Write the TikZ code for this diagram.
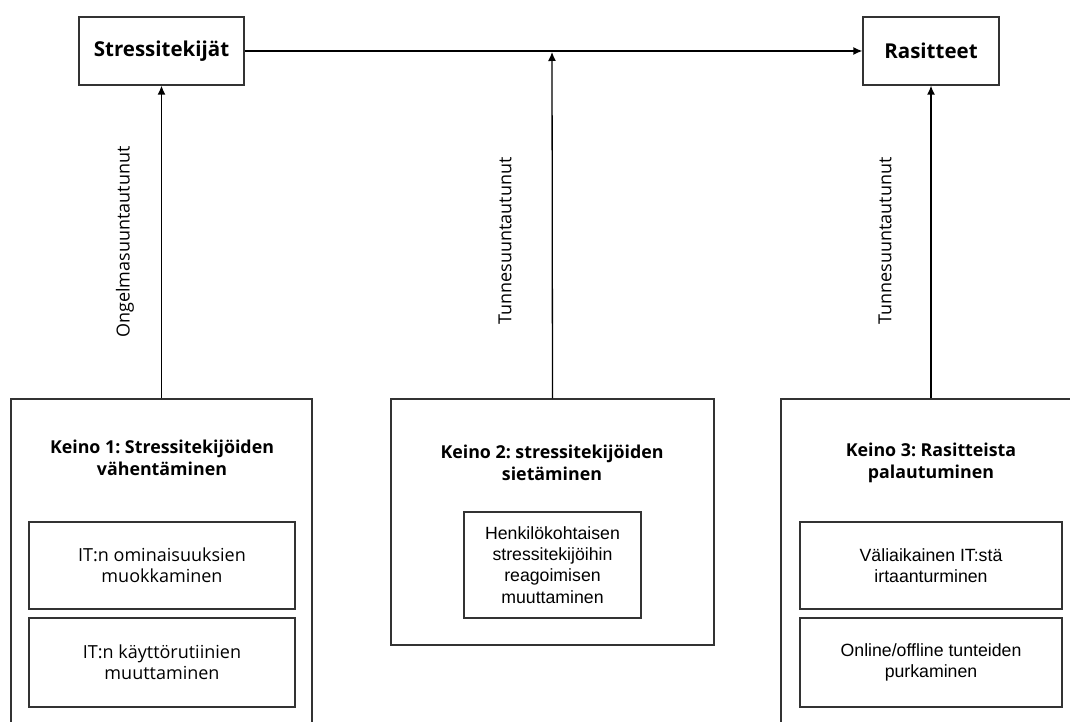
\documentclass[tikz,border=0pt]{standalone}
\usepackage{fontspec}
\setmainfont{Open Sans}
\newfontfamily\arialf{Liberation Sans}
\usetikzlibrary{arrows.meta}
\definecolor{lc}{HTML}{333333}
\frenchspacing
\begin{document}
\frenchspacing
\begin{tikzpicture}[x=1pt,y=-1pt,
  box/.style={draw=lc, line width=1.3pt, fill=white, inner sep=0pt},
  topbox/.style={box, font=\fontsize{20.5}{24}\selectfont\bfseries},
  ttl/.style={align=center, inner sep=0pt, font=\fontsize{17.8}{21.5}\selectfont\bfseries},
  inos/.style={box, align=center, font=\fontsize{18}{21}\selectfont},
  inar/.style={box, align=center, font=\arialf\fontsize{17.7}{21.3}\selectfont},
  lbl/.style={rotate=90, inner sep=0pt, font=\fontsize{18}{20}\selectfont},
  arr/.style={draw=black, line width=1.3pt, -{Latex[length=9pt,width=8pt]}}]
\useasboundingbox (0,0) rectangle (1070,722);
% top boxes
\node[topbox, minimum width=165pt, minimum height=68pt] (st) at (161.5,51) {Stressitekijät};
\node[topbox, minimum width=136pt, minimum height=68pt] (ra) at (931,51) {Rasitteet};
% outer boxes
\node[box, minimum width=301pt, minimum height=361pt] (k1) at (161.5,579.5) {};
\node[box, minimum width=323pt, minimum height=246pt] (k2) at (552.5,522) {};
\node[box, minimum width=319pt, minimum height=361pt] (k3) at (940.5,579.5) {};
% titles
\node[ttl] (t1) at (162,458) {Keino 1: Stressitekijöiden\\vähentäminen};
\node[ttl] (t2) at (552,463) {Keino 2: stressitekijöiden\\sietäminen};
\node[ttl] (t3) at (931,463) {Keino 3: Rasitteista\\palautuminen};
% inner boxes
\node[inos, minimum width=266pt, minimum height=87pt] (i1a) at (162,565.5) {IT:n ominaisuuksien\\muokkaminen};
\node[inos, minimum width=266pt, minimum height=89pt] (i1b) at (162,662.5) {IT:n käyttörutiinien\\muuttaminen};
\node[inar, minimum width=177pt, minimum height=106pt] (i2) at (552.5,565) {Henkilökohtaisen\\stressitekijöihin\\reagoimisen\\muuttaminen};
\node[inar, minimum width=262pt, minimum height=87pt] (i3a) at (931,565.5) {Väliaikainen IT:stä\\irtaanturminen};
\node[inar, minimum width=262pt, minimum height=89pt] (i3b) at (931,662.5) {Online/offline tunteiden\\purkaminen};
% connectors
\draw[arr] (st.east) -- (ra.west);
\coordinate (mid) at (552,52);
\draw[arr] (k1.north -| st.south) -- (st.south);
\draw[arr] (k2.north) -- (mid);
\draw[arr] (k3.north -| ra.south) -- (ra.south);
% labels
\node[lbl] (l1) at (125,242) {Ongelmasuuntautunut};
\node[lbl] (l2) at (505,241) {Tunnesuuntautunut};
\node[lbl] (l3) at (885,241) {Tunnesuuntautunut};
\end{tikzpicture}
\end{document}
